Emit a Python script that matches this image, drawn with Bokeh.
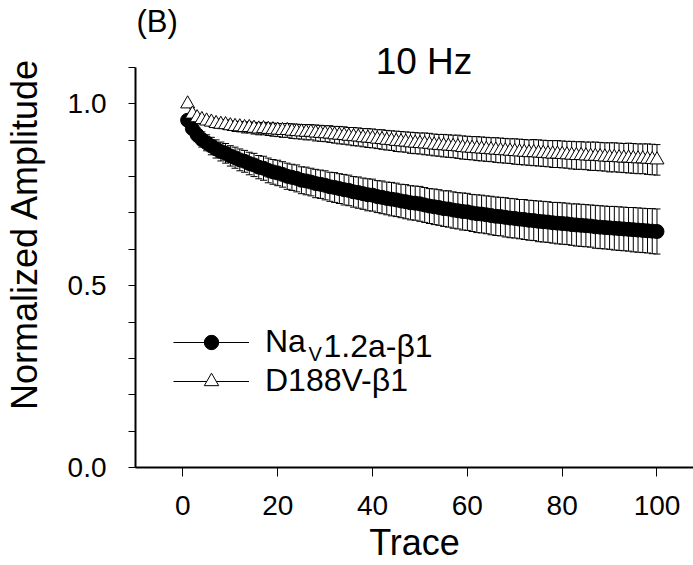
from bokeh.plotting import figure
from bokeh.models import (ColumnDataSource, Whisker, TeeHead, Legend, LegendItem,
                          Label, FixedTicker, Range1d)
from bokeh.embed import file_html
from bokeh.resources import INLINE

# ---------------- data ----------------
trace = list(range(1, 101))

nav12_b1 = [
    0.955, 0.932, 0.915, 0.902, 0.893, 0.884, 0.876, 0.869, 0.864, 0.857,
    0.852, 0.846, 0.842, 0.836, 0.832, 0.826, 0.823, 0.817, 0.813, 0.810,
    0.806, 0.801, 0.798, 0.795, 0.790, 0.788, 0.785, 0.781, 0.779, 0.776,
    0.772, 0.770, 0.767, 0.764, 0.762, 0.758, 0.756, 0.753, 0.750, 0.749,
    0.745, 0.743, 0.740, 0.738, 0.736, 0.733, 0.731, 0.728, 0.727, 0.725,
    0.722, 0.719, 0.717, 0.715, 0.712, 0.711, 0.708, 0.706, 0.704, 0.703,
    0.700, 0.698, 0.697, 0.695, 0.693, 0.691, 0.690, 0.688, 0.686, 0.685,
    0.683, 0.682, 0.680, 0.679, 0.677, 0.676, 0.675, 0.673, 0.672, 0.671,
    0.670, 0.668, 0.667, 0.666, 0.665, 0.664, 0.662, 0.661, 0.660, 0.659,
    0.658, 0.657, 0.656, 0.655, 0.654, 0.653, 0.652, 0.651, 0.650, 0.649,
]
nav12_b1_err = [
    0.012, 0.016, 0.019, 0.021, 0.022, 0.024, 0.025, 0.026, 0.027, 0.028,
    0.029, 0.030, 0.030, 0.031, 0.032, 0.032, 0.033, 0.034, 0.034, 0.035,
    0.035, 0.036, 0.036, 0.037, 0.037, 0.038, 0.038, 0.039, 0.039, 0.040,
    0.040, 0.041, 0.041, 0.042, 0.042, 0.042, 0.043, 0.043, 0.044, 0.044,
    0.044, 0.045, 0.045, 0.046, 0.046, 0.046, 0.047, 0.047, 0.047, 0.048,
    0.048, 0.048, 0.049, 0.049, 0.049, 0.050, 0.050, 0.050, 0.051, 0.051,
    0.051, 0.052, 0.052, 0.052, 0.053, 0.053, 0.053, 0.054, 0.054, 0.054,
    0.054, 0.055, 0.055, 0.055, 0.056, 0.056, 0.056, 0.056, 0.057, 0.057,
    0.057, 0.057, 0.058, 0.058, 0.058, 0.058, 0.059, 0.059, 0.059, 0.059,
    0.060, 0.060, 0.060, 0.060, 0.061, 0.061, 0.061, 0.061, 0.062, 0.062,
]

d188v_b1 = [
    1.000, 0.972, 0.962, 0.957, 0.953, 0.950, 0.946, 0.944, 0.943, 0.940,
    0.938, 0.937, 0.935, 0.935, 0.933, 0.931, 0.932, 0.930, 0.929, 0.928,
    0.927, 0.927, 0.925, 0.924, 0.923, 0.922, 0.922, 0.920, 0.919, 0.918,
    0.917, 0.915, 0.914, 0.913, 0.911, 0.910, 0.909, 0.907, 0.906, 0.905,
    0.903, 0.902, 0.900, 0.899, 0.897, 0.896, 0.895, 0.893, 0.892, 0.891,
    0.890, 0.889, 0.887, 0.886, 0.885, 0.884, 0.883, 0.882, 0.880, 0.879,
    0.878, 0.877, 0.876, 0.875, 0.874, 0.873, 0.872, 0.871, 0.870, 0.869,
    0.868, 0.867, 0.866, 0.866, 0.865, 0.864, 0.863, 0.862, 0.862, 0.861,
    0.860, 0.859, 0.858, 0.858, 0.857, 0.856, 0.856, 0.855, 0.854, 0.853,
    0.853, 0.852, 0.851, 0.851, 0.850, 0.849, 0.849, 0.848, 0.847, 0.846,
]
d188v_b1_err = [
    0.000, 0.006, 0.008, 0.009, 0.010, 0.011, 0.012, 0.012, 0.013, 0.013,
    0.014, 0.014, 0.015, 0.015, 0.016, 0.016, 0.017, 0.017, 0.018, 0.018,
    0.019, 0.019, 0.020, 0.020, 0.020, 0.021, 0.021, 0.022, 0.022, 0.022,
    0.023, 0.023, 0.024, 0.024, 0.024, 0.025, 0.025, 0.025, 0.026, 0.026,
    0.026, 0.027, 0.027, 0.027, 0.028, 0.028, 0.028, 0.029, 0.029, 0.029,
    0.030, 0.030, 0.030, 0.030, 0.031, 0.031, 0.031, 0.032, 0.032, 0.032,
    0.032, 0.033, 0.033, 0.033, 0.033, 0.034, 0.034, 0.034, 0.034, 0.035,
    0.035, 0.035, 0.035, 0.036, 0.036, 0.036, 0.036, 0.037, 0.037, 0.037,
    0.037, 0.038, 0.038, 0.038, 0.038, 0.039, 0.039, 0.039, 0.039, 0.040,
    0.040, 0.040, 0.040, 0.041, 0.041, 0.041, 0.041, 0.042, 0.042, 0.042,
]

x_ticks = [0, 20, 40, 60, 80, 100]
y_ticks = [0.0, 0.5, 1.0]
y_minor_ticks = [0.1, 0.2, 0.3, 0.4, 0.6, 0.7, 0.8, 0.9, 1.1]

FONT = "Liberation Sans"

src_nav = ColumnDataSource(dict(
    x=trace, y=nav12_b1,
    upper=[v + e for v, e in zip(nav12_b1, nav12_b1_err)],
    lower=[v - e for v, e in zip(nav12_b1, nav12_b1_err)],
))
src_d = ColumnDataSource(dict(
    x=trace, y=d188v_b1,
    upper=[v + e for v, e in zip(d188v_b1, d188v_b1_err)],
    lower=[v - e for v, e in zip(d188v_b1, d188v_b1_err)],
))

p = figure(width=693, height=565, output_backend="svg", toolbar_location=None,
           x_range=Range1d(-10, 107.7), y_range=Range1d(0, 1.2843),
           min_border_left=135, min_border_right=0, min_border_top=0,
           min_border_bottom=98)
p.outline_line_color = None
p.xgrid.visible = False
p.ygrid.visible = False

# error bars
for src in (src_nav, src_d):
    w = Whisker(source=src, base="x", upper="upper", lower="lower",
                line_color="black", line_width=1,
                upper_head=TeeHead(size=7, line_color="black", line_width=1),
                lower_head=TeeHead(size=7, line_color="black", line_width=1))
    p.add_layout(w)

l1 = p.line("x", "y", source=src_nav, line_color="black", line_width=1)
s1 = p.scatter("x", "y", source=src_nav, marker="circle", size=14,
               fill_color="black", line_color="black")
l2 = p.line("x", "y", source=src_d, line_color="black", line_width=1)
s2 = p.scatter("x", "y", source=src_d, marker="triangle", size=14,
               fill_color="white", line_color="black", line_width=1)

# axes
p.xaxis.ticker = FixedTicker(ticks=x_ticks)
p.yaxis.ticker = FixedTicker(ticks=y_ticks, minor_ticks=y_minor_ticks)
p.yaxis.major_label_overrides = {0.0: "0.0", 0.5: "0.5", 1.0: "1.0"}
p.yaxis.bounds = (0, 1.1)
for ax in (p.xaxis[0], p.yaxis[0]):
    ax.axis_line_width = 2
    ax.axis_line_color = "black"
    ax.major_tick_line_color = "black"
    ax.minor_tick_line_color = "black"
    ax.major_tick_in = 0
    ax.minor_tick_in = 0
    ax.major_label_text_font = FONT
    ax.major_label_text_font_size = "28px"
    ax.major_label_text_color = "black"
    ax.axis_label_text_font = FONT
    ax.axis_label_text_font_style = "normal"
    ax.axis_label_text_color = "black"
p.xaxis.axis_label = "Trace"
p.xaxis.axis_label_text_font_size = "36px"
p.xaxis.major_tick_out = 9
p.xaxis.minor_tick_out = 0
p.xaxis.major_label_standoff = 19
p.xaxis.axis_label_standoff = 4
p.yaxis.axis_label = "Normalized Amplitude"
p.yaxis.axis_label_text_font_size = "36px"
p.yaxis.major_tick_out = 7
p.yaxis.minor_tick_out = 7
p.yaxis.major_label_standoff = 22
p.yaxis.axis_label_standoff = 20

# legend
legend = Legend(items=[LegendItem(label="Na", renderers=[l1, s1]),
                       LegendItem(label="D188V-\u03b21", renderers=[l2, s2])],
                location=(38, 68), border_line_color=None,
                background_fill_alpha=0, label_text_font=FONT,
                label_text_font_size="32px", label_text_color="black",
                glyph_width=76, glyph_height=36, label_height=20,
                label_standoff=16, spacing=2, padding=0, margin=0)
p.add_layout(legend)
p.add_layout(Label(x=26.5, y=0.3135, text="V", text_font=FONT,
                   text_font_size="20px", text_color="black",
                   text_baseline="alphabetic"))
p.add_layout(Label(x=29.66, y=0.3355, text="1.2a-\u03b21", text_font=FONT,
                   text_font_size="32px", text_color="black",
                   text_baseline="alphabetic"))

# panel letter and title
p.add_layout(Label(x=-9.79, y=1.2253, text="(B)", text_font=FONT,
                   text_font_size="31px", text_color="black",
                   text_baseline="alphabetic"))
p.add_layout(Label(x=50.85, y=1.1166, text="10 Hz", text_font=FONT,
                   text_font_size="37px", text_color="black",
                   text_align="center", text_baseline="alphabetic"))

open("out.html", "w").write(file_html(p, INLINE))
